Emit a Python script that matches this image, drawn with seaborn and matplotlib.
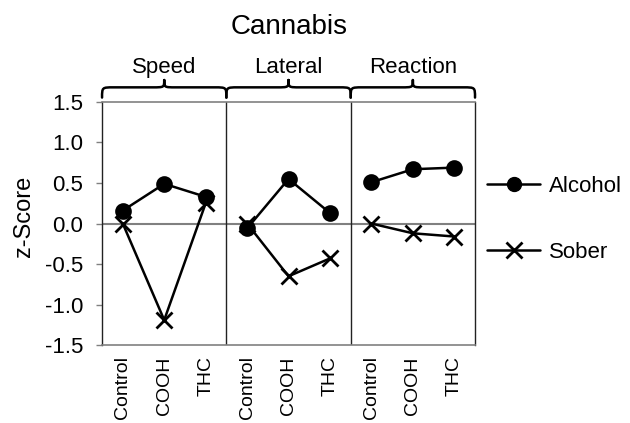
import numpy as np
import pandas as pd
import matplotlib
matplotlib.use('Agg')
import matplotlib.pyplot as plt
import seaborn as sns
from matplotlib.path import Path
from matplotlib.patches import PathPatch
from matplotlib.lines import Line2D
from matplotlib.transforms import blended_transform_factory

measures = ['Speed', 'Lateral', 'Reaction']
conditions = ['Control', 'COOH', 'THC']
alcohol = [0.16, 0.49, 0.33, -0.06, 0.55, 0.13, 0.51, 0.67, 0.69]
sober = [0.0, -1.19, 0.25, 0.0, -0.65, -0.43, 0.0, -0.12, -0.16]

rows = []
for i in range(9):
    rows.append({'pos': i, 'measure': measures[i // 3], 'cond': conditions[i % 3],
                 'group': 'Alcohol', 'z': alcohol[i]})
    rows.append({'pos': i, 'measure': measures[i // 3], 'cond': conditions[i % 3],
                 'group': 'Sober', 'z': sober[i]})
df = pd.DataFrame(rows)

sns.set_style('white')
plt.rcParams['font.family'] = ['Liberation Sans', 'DejaVu Sans']
plt.rcParams['text.color'] = 'black'
plt.rcParams['axes.labelcolor'] = 'black'

fig = plt.figure(figsize=(6.3, 4.23), dpi=100)
ax = fig.add_axes([0.162, 0.184, 0.592, 0.575])

# one call per group (seaborn won't mix filled and line-art markers)
for grp, mk, ms in [('Alcohol', 'o', 10), ('Sober', 'x', 12)]:
    sns.lineplot(data=df[df.group == grp], x='pos', y='z', units='measure',
                 estimator=None, marker=mk, color='black', linewidth=1.8,
                 markersize=ms, markeredgecolor='black', markeredgewidth=2,
                 legend=False, ax=ax, sort=False)

ax.axhline(0, color='#808080', lw=1.5, zorder=0)
for d in [2.5, 5.5]:
    ax.axvline(d, color='#222222', lw=1, zorder=0)

ax.set_xlim(-0.5, 8.5)
ax.set_ylim(-1.5, 1.5)
ax.set_yticks(np.arange(-1.5, 1.51, 0.5))
ax.set_yticklabels(['%.1f' % v for v in np.arange(-1.5, 1.51, 0.5)], fontsize=16)
ax.set_xticks(range(9))
ax.set_xticklabels(conditions * 3, rotation=90, fontsize=14, va='top')
ax.tick_params(axis='x', length=0, pad=8, labelcolor='black')
ax.tick_params(axis='y', length=4.5, width=1, color='#808080', left=True, pad=9,
               labelcolor='black')
ax.set_xlabel('')
ax.set_ylabel('z-Score', fontsize=17)
ax.yaxis.set_label_coords(-0.18, 0.53)

for s in ['top', 'bottom']:
    ax.spines[s].set_color('#808080')
    ax.spines[s].set_linewidth(1.2)
for s in ['left', 'right']:
    ax.spines[s].set_color('#222222')
    ax.spines[s].set_linewidth(1)

# braces above panels
tr = blended_transform_factory(ax.transData, ax.transAxes)
yl, yc, yt = 1.018, 1.06, 1.09
r = 0.28
for k, name in enumerate(measures):
    x0, x1 = -0.5 + 3 * k, 2.5 + 3 * k
    xm = (x0 + x1) / 2
    verts = [(x0, yl), (x0, yc), (x0, yc), (x0 + r, yc),
             (xm - r, yc), (xm, yc), (xm, yc), (xm, yt),
             (xm, yt), (xm, yc), (xm, yc), (xm + r, yc),
             (x1 - r, yc), (x1, yc), (x1, yc), (x1, yl)]
    codes = [Path.MOVETO, Path.CURVE4, Path.CURVE4, Path.CURVE4,
             Path.LINETO, Path.CURVE4, Path.CURVE4, Path.CURVE4,
             Path.MOVETO, Path.CURVE4, Path.CURVE4, Path.CURVE4,
             Path.LINETO, Path.CURVE4, Path.CURVE4, Path.CURVE4]
    ax.add_patch(PathPatch(Path(verts, codes), transform=tr, fill=False,
                           lw=1.8, color='black', clip_on=False,
                           capstyle='round', joinstyle='round'))
    ax.text(xm, 1.14, name, transform=tr, ha='center', va='center', fontsize=16)

fig.text(0.459, 0.936, 'Cannabis', ha='center', va='center', fontsize=20)

handles = [Line2D([], [], color='black', lw=1.8, marker='o', markersize=10),
           Line2D([], [], color='black', lw=1.8, marker='x', markersize=12, markeredgewidth=2)]
ax.legend(handles, ['Alcohol', 'Sober'], loc='upper left', bbox_to_anchor=(1.032, 0.695),
          frameon=False, fontsize=16, handlelength=2.4, handletextpad=0.4,
          labelspacing=2.0, borderpad=0, borderaxespad=0)

fig.savefig('out.png', dpi=100)
